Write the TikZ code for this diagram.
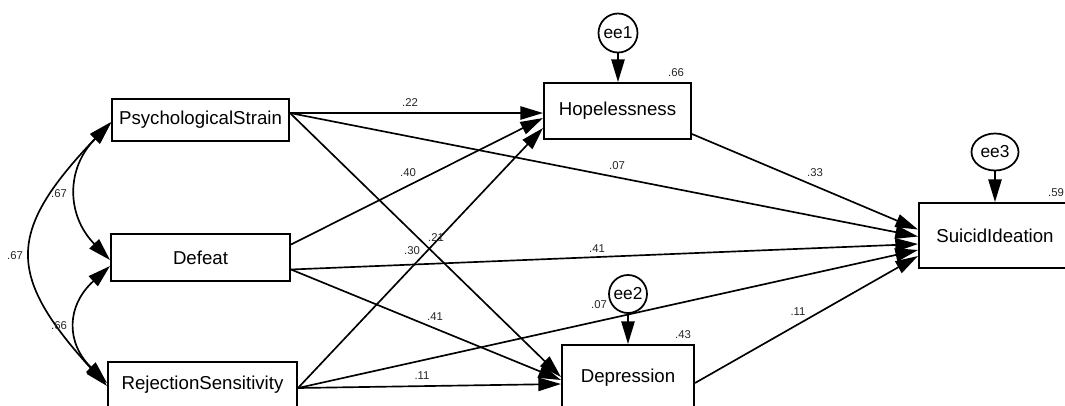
\documentclass[tikz,border=0pt]{standalone}
\usepackage{fontspec}
\setmainfont{Liberation Sans}
\usetikzlibrary{arrows.meta,calc,shapes.geometric}
\begin{document}
\begin{tikzpicture}[x=0.75pt,y=-0.75pt,
  box/.style={draw=black,line width=1.5pt,fill=white,inner sep=0pt,font=\fontsize{14}{16}\selectfont},
  errc/.style={draw=black,line width=1.3pt,circle,inner sep=0pt,font=\fontsize{13}{15}\selectfont},
  erre/.style={draw=black,line width=1.3pt,ellipse,inner sep=0pt,font=\fontsize{13}{15}\selectfont},
  lab/.style={font=\fontsize{8.5}{10}\selectfont,inner sep=0pt,text=black!85},
  arr/.style={line width=1.25pt,-{Triangle[length=17pt,width=10pt]}},
  darr/.style={line width=1.25pt,{Triangle[length=17pt,width=10pt]}-{Triangle[length=17pt,width=10pt]}},
]
\useasboundingbox (0,0) rectangle (1065,405);
\clip (0,0) rectangle (1065,405);

% observed variables
\node[box,minimum width=132.75pt,minimum height=31.5pt] (PS) at (200.5,120) {PsychologicalStrain};
\node[box,minimum width=134.25pt,minimum height=35.25pt] (Def) at (200.5,257.5) {Defeat};
\node[box,minimum width=141.75pt,minimum height=34.5pt] (RS) at (202.5,385) {RejectionSensitivity};
\node[box,minimum width=110.25pt,minimum height=42pt] (Hope) at (617.5,111) {Hopelessness};
\node[box,minimum width=99pt,minimum height=49.5pt] (Dep) at (628,378) {Depression};
\node[box,minimum width=114pt,minimum height=48.75pt] (SI) at (995,235.5) {SuicidIdeation};

% error terms
\node[errc,minimum size=29.25pt] (e1) at (618,33) {ee1};
\node[errc,minimum size=28.5pt] (e2) at (628,294) {ee2};
\node[erre,minimum width=35.25pt,minimum height=27.75pt] (e3) at (995,152) {ee3};

\draw[arr] (e1.south) -- (e1.south |- Hope.north);
\draw[arr] (e2.south) -- (e2.south |- Dep.north);
\draw[arr] (e3.south) -- (e3.south |- SI.north);

% regression paths
\draw[arr] ($(PS.east)+(0,-7)$) -- ($(Hope.west)+(0,2)$);
\draw[arr] ($(PS.east)+(0,-7)$) -- ($(SI.west)+(0,1)$);
\draw[arr] ($(PS.east)+(0,-7)$) -- ($(Dep.west)+(0,-1)$);
\draw[arr] ($(Def.east)+(0,-13)$) -- ($(Hope.west)+(0,7)$);
\draw[arr] ($(Def.east)+(0,12)$) -- ($(SI.west)+(0,8.5)$);
\draw[arr] ($(Def.east)+(0,12)$) -- ($(Dep.west)+(0,2)$);
\draw[arr] ($(RS.east)+(0,3)$) -- ($(Hope.west)+(0,17)$);
\draw[arr] ($(RS.east)+(0,3)$) -- ($(SI.west)+(0,14.5)$);
\draw[arr] ($(RS.east)+(0,3)$) -- ($(Dep.west)+(0,6)$);
\draw[arr] ($(Hope.east)+(0,23)$) -- ($(SI.west)+(0,-6)$);
\draw[arr] ($(Dep.east)+(0,5)$) -- ($(SI.west)+(0,20.5)$);

% covariances
\draw[darr] ($(PS.west)+(0,3)$) .. controls (66,168) and (66,215) .. ($(Def.west)+(0,2.5)$);
\draw[darr] ($(Def.west)+(0,8.5)$) .. controls (66,306) and (66,343) .. ($(RS.west)+(0,-2)$);
\draw[darr] ($(PS.west)+(0,2)$) .. controls (6,232) and (6,275) .. ($(RS.west)+(0,1)$);

% labels
\node[lab] (l1) at (410,103) {.22};
\node[lab] (l2) at (408,173) {.40};
\node[lab] (l3) at (436,238) {.21};
\node[lab] (l4) at (412,251) {.30};
\node[lab] (l5) at (435,317) {.41};
\node[lab] (l6) at (422,376) {.11};
\node[lab] (l7) at (617,166) {.07};
\node[lab] (l8) at (597,249) {.41};
\node[lab] (l9) at (599,305) {.07};
\node[lab] (l10) at (815,173) {.33};
\node[lab] (l11) at (798,312) {.11};
\node[lab] (l12) at (676,73) {.66};
\node[lab] (l13) at (683,335) {.43};
\node[lab] (l14) at (1056,193) {.59};
\node[lab] (l15) at (59,194) {.67};
\node[lab] (l16) at (15,256) {.67};
\node[lab] (l17) at (59,326) {.66};
\end{tikzpicture}
\end{document}
